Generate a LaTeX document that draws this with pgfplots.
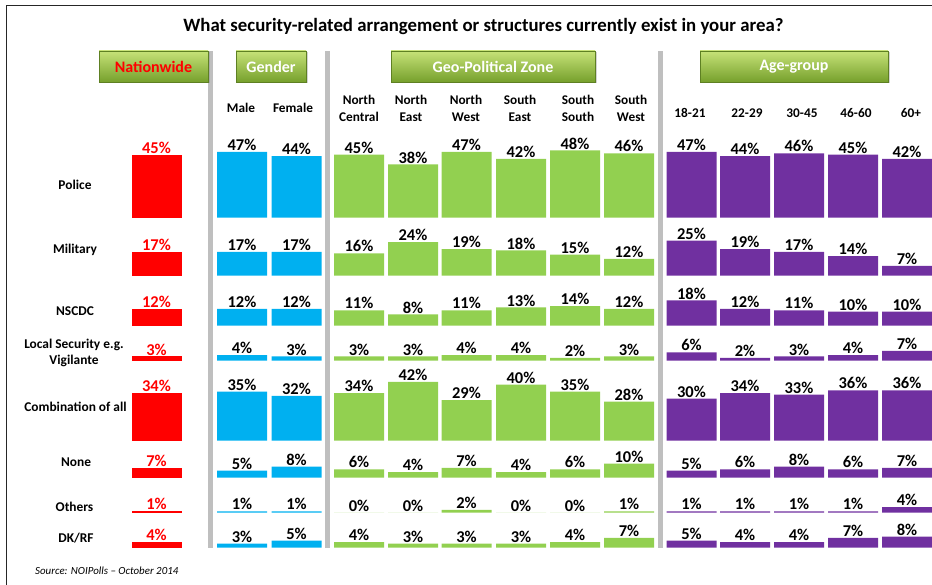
\documentclass[border=0pt]{standalone}
\usepackage{fontspec}
\setmainfont{Carlito}
\usepackage{pgfplots}
\pgfplotsset{compat=1.18}
\usepackage{pgfplotstable}
\usetikzlibrary{shadows}
\definecolor{nred}{RGB}{255,0,0}
\definecolor{nblue}{RGB}{0,176,240}
\definecolor{ngreen}{RGB}{146,208,80}
\definecolor{npurple}{RGB}{112,48,160}
\definecolor{sepgray}{RGB}{191,191,191}
\definecolor{hdtop}{RGB}{198,226,120}
\definecolor{hdbot}{RGB}{118,160,44}

% x = bar centre (px); columns = share (%) per answer
\pgfplotstableread{
x     pol mil nsc loc com non oth dk
156.5 45  17  12  3   34  7   1   4
242   47  17  12  4   35  5   1   3
296.5 44  17  12  3   32  8   1   5
359   45  16  11  3   34  6   0   4
413   38  24  8   3   42  4   0   3
466.5 47  19  11  4   29  7   2   3
521   42  18  13  4   40  4   0   3
575   48  15  14  2   35  6   0   4
629   46  12  12  3   28  10  1   7
691.5 47  25  18  6   30  5   1   5
745   44  19  12  2   34  6   1   4
799   46  17  11  3   33  8   1   4
853   45  14  10  4   36  6   1   7
907   42  7   10  7   36  7   4   8
}\data

\pgfplotsset{
  rowax/.style={
    x=1pt, y=1.4pt, xmin=0, xmax=932, ymin=0, ymax=50,
    hide axis, clip=false, anchor=south west,
    /pgf/number format/assume math mode=true,
    nodes near coords={\pgfmathprintnumber{\pgfplotspointmeta}\%},
    every node near coord/.style={anchor=south, inner sep=1pt, font=\fontsize{16.5}{16.5}\selectfont\bfseries, text=black},
    every axis plot/.append style={ybar, bar width=50, bar shift=0pt, draw=none},
  },
}
\newcommand\datarow[2]{%
\begin{axis}[rowax, at={(0pt,-#2pt)}]
\addplot[fill=nred, restrict x to domain=0:200, every node near coord/.append style={text=nred}] table[x=x,y=#1]{\data};
\addplot[fill=nblue, restrict x to domain=200:330] table[x=x,y=#1]{\data};
\addplot[fill=ngreen, restrict x to domain=330:660] table[x=x,y=#1]{\data};
\addplot[fill=npurple, restrict x to domain=660:940] table[x=x,y=#1]{\data};
\end{axis}}

\begin{document}
\begin{tikzpicture}[x=1pt,y=1pt]
% frame
\draw[line width=1.5pt, black!85] (6.7,-585) -- (6.7,-5.3) -- (932,-5.3);
% title
\node[font=\fontsize{18.8}{18.8}\selectfont\bfseries] at (483.5,-27) {What security-related arrangement or structures currently exist in your area?};
% separators
\foreach \a in {208,325,658} \fill[sepgray] (\a,-51) rectangle (\a+5,-548);
% header boxes
\tikzset{hd/.style={minimum height=31pt, inner sep=0pt, top color=hdtop, bottom color=hdbot, draw=hdbot!80!black, line width=0.4pt, drop shadow={shadow xshift=1.5pt, shadow yshift=-1.5pt, opacity=0.35}, font=\fontsize{16}{16}\selectfont\bfseries, text=white}}
\node[hd, minimum width=109pt, text=nred] at (153.5,-66.5) {Nationwide};
\node[hd, minimum width=70pt] at (271,-66.5) {Gender};
\node[hd, minimum width=204pt] at (493,-66.5) {Geo-Political Zone};
\node[hd, minimum width=188pt] at (794,-66.5) {Age-group};
% column headers
\tikzset{ch/.style={font=\fontsize{13.3}{17}\selectfont\bfseries, align=center}}
\node[ch] at (241,-108) {Male};
\node[ch] at (293,-108) {Female};
\foreach \xx/\t in {359/{North\\Central},411/{North\\East},466/{North\\West},520/{South\\East},578/{South\\South},631/{South\\West}}
  \node[ch] at (\xx,-108) {\t};
\foreach \xx/\t in {690/18-21,747/22-29,802/30-45,856/46-60,911/60+}
  \node[ch] at (\xx,-112.7) {\t};
% row labels
\tikzset{rl/.style={font=\fontsize{13.4}{16}\selectfont\bfseries, align=center}}
\node[rl] at (75,-185) {Police};
\node[rl] at (75,-250) {Military};
\node[rl] at (75,-311) {NSCDC};
\node[rl] at (74,-353) {Local Security e.g.\\Vigilante};
\node[rl] at (75.5,-407) {Combination of all};
\node[rl] at (76,-462) {None};
\node[rl] at (74.5,-507) {Others};
\node[rl] at (76,-538) {DK/RF};
\node[font=\fontsize{10.9}{10.9}\selectfont\itshape, anchor=west, inner sep=0pt] at (35,-571) {Source: NOIPolls -- October 2014};
% data rows
\datarow{pol}{217.7}
\datarow{mil}{275.7}
\datarow{nsc}{325.7}
\datarow{loc}{360.7}
\datarow{com}{440.7}
\datarow{non}{477.7}
\datarow{oth}{512.7}
\datarow{dk}{547.7}
\pgfresetboundingbox
\useasboundingbox (0,0) rectangle (932,-585);
\end{tikzpicture}
\end{document}
